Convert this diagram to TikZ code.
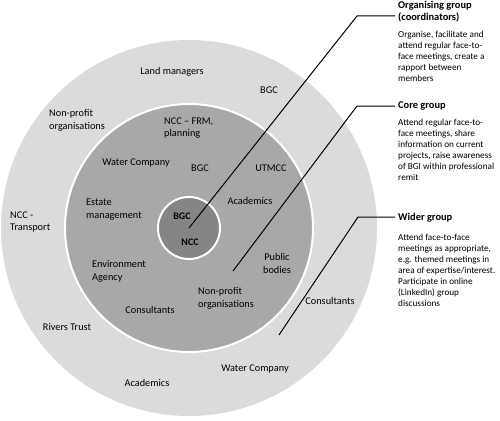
\documentclass[tikz,border=0pt]{standalone}
\usepackage{fontspec}
\setmainfont{Carlito}
\begin{document}
\begin{tikzpicture}[x=1pt,y=-1pt,
  ring/.style={draw=white,line width=2pt},
  lbl/.style={inner sep=0pt,font=\fontsize{10.3}{12.7}\selectfont},
  lbll/.style={lbl,align=left},
  lblc/.style={lbl,align=center},
  lblb/.style={inner sep=0pt,font=\fontsize{10}{12}\selectfont\bfseries},
  head/.style={inner sep=0pt,anchor=north west,align=left,font=\fontsize{10.4}{11.2}\selectfont\bfseries},
  body/.style={inner sep=0pt,anchor=north west,align=left,font=\fontsize{9.2}{11.1}\selectfont},
  conn/.style={draw=black,line width=1pt}]
\useasboundingbox (0,0) rectangle (500,420);
\coordinate (c) at (189,228);
\fill[black!14] (c) circle (188);
\draw[ring,fill=black!34] (c) circle (124);
\draw[ring,fill=black!48] (c) circle (31);
% outer ring labels
\node[lbl] (lm) at (172,72) {Land managers};
\node[lbl] (bgc1) at (269,90) {BGC};
\node[lbll,anchor=west] (np1) at (49,120.5) {Non-profit\\organisations};
\node[lbll,anchor=west] (nct) at (10,222) {NCC -\\Transport};
\node[lbl] (rt) at (67,327) {Rivers Trust};
\node[lbl] (ac1) at (147,383) {Academics};
\node[lbl] (wc1) at (255,369) {Water Company};
\node[lbl] (co1) at (330,301) {Consultants};
% middle ring labels
\node[lbll,anchor=west] (frm) at (164,128) {NCC -- FRM,\\planning};
\node[lbl] (wc2) at (136,163) {Water Company};
\node[lbl] (bgc2) at (200,168) {BGC};
\node[lbl] (ut) at (271,168) {UTMCC};
\node[lbll,anchor=west] (em) at (86,209.5) {Estate\\management};
\node[lbl] (ac2) at (250,201) {Academics};
\node[lbll,anchor=west] (ea) at (92,271.5) {Environment\\Agency};
\node[lblc] (pb) at (277,263.5) {Public\\bodies};
\node[lbll,anchor=west] (np2) at (198,298) {Non-profit\\organisations};
\node[lbl] (co2) at (150,310) {Consultants};
% inner labels
\node[lblb] (bgc3) at (182,216) {BGC};
\node[lblb] (ncc) at (190,242) {NCC};
% right-hand texts
\node[head] (h1) at (398,1.5) {Organising group\\(coordinators)};
\node[body] (b1) at (398,30.5) {Organise, facilitate and\\attend regular face-to-\\face meetings, create a\\rapport between\\members};
\node[head] (h2) at (398,101.5) {Core group};
\node[body] (b2) at (398,118.5) {Attend regular face-to-\\face meetings, share\\information on current\\projects, raise awareness\\of BGI within professional\\remit};
\node[head] (h3) at (398,213.5) {Wider group};
\node[body] (b3) at (398,233.5) {Attend face-to-face\\meetings as appropriate,\\e.g. themed meetings in\\area of expertise/interest.\\Participate in online\\(LinkedIn) group\\discussions};
% connectors
\coordinate (p1) at (189,228);
\coordinate (k1) at (357,16);
\coordinate (p2) at (233,271);
\coordinate (k2) at (357,106);
\coordinate (p3) at (279,335);
\coordinate (k3) at (358,217);
\draw[conn] (p1) -- (k1) -- ([xshift=-3pt]h1.west |- k1);
\draw[conn] (p2) -- (k2) -- ([xshift=-3pt]h2.west |- k2);
\draw[conn] (p3) -- (k3) -- ([xshift=-3pt]h3.west |- k3);
\end{tikzpicture}
\end{document}
